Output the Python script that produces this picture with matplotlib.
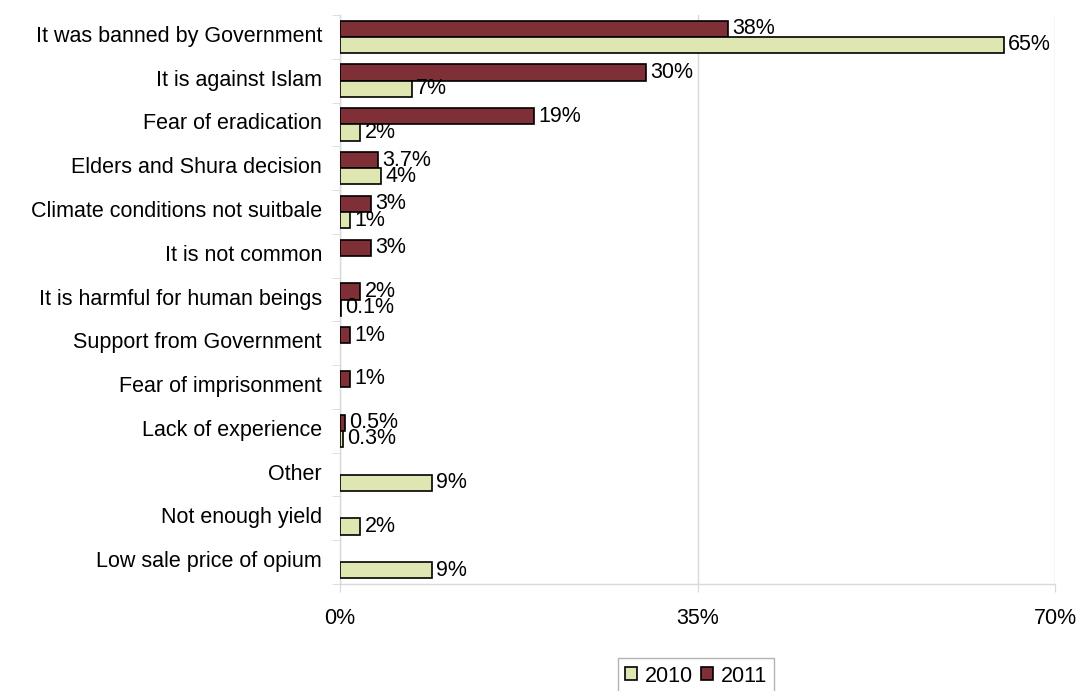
import matplotlib
matplotlib.use("Agg")
import matplotlib.pyplot as plt
import matplotlib.transforms as mtransforms
import numpy as np
from matplotlib.patches import Patch

plt.rcParams['font.family'] = ['Liberation Sans', 'DejaVu Sans']

categories = [
    "It was banned by Government",
    "It is against Islam",
    "Fear of eradication",
    "Elders and Shura decision",
    "Climate conditions not suitbale",
    "It is not common",
    "It is harmful for human beings",
    "Support from Government",
    "Fear of imprisonment",
    "Lack of experience",
    "Other",
    "Not enough yield",
    "Low sale price of opium",
]
# percent of respondents; None = not asked that year
values_2011 = [38, 30, 19, 3.7, 3, 3, 2, 1, 1, 0.5, None, None, None]
values_2010 = [65, 7, 2, 4, 1, None, 0.1, None, None, 0.3, 9, 2, 9]
xticks = [0, 35, 70]

color_2010 = "#E0E6B2"
color_2011 = "#7F2F36"
grid_color = "#D9D9D9"
fs = 15.5

fig = plt.figure(figsize=(10.78, 6.91), dpi=100)
ax = fig.add_axes([340 / 1078, 1 - 584 / 691, 715 / 1078, 569 / 691])

y = np.arange(len(categories))
h = 0.37


def fmt(v):
    return f"{v:g}%"


for i, (v11, v10) in enumerate(zip(values_2011, values_2010)):
    if v11 is not None:
        ax.barh(i - h / 2, v11, height=h, color=color_2011,
                edgecolor="black", linewidth=1.2, zorder=3)
        ax.annotate(fmt(v11), (v11, i - h / 2), xytext=(3, 0),
                    textcoords="offset points", va="center", ha="left",
                    fontsize=fs, zorder=4)
    if v10 is not None:
        ax.barh(i + h / 2, v10, height=h, color=color_2010,
                edgecolor="black", linewidth=1.2, zorder=3)
        ax.annotate(fmt(v10), (v10, i + h / 2), xytext=(3, 0),
                    textcoords="offset points", va="center", ha="left",
                    fontsize=fs, zorder=4)

ax.set_xlim(0, 70)
ax.set_ylim(len(categories) - 0.5, -0.5)

ax.set_xticks(xticks)
ax.set_xticklabels([f"{t}%" for t in xticks], fontsize=fs)
ax.tick_params(axis="x", length=6, color=grid_color, pad=11)
ax.xaxis.grid(True, color=grid_color, linewidth=1, zorder=0)

ax.set_yticks(y)
ax.set_yticklabels(categories, fontsize=fs)
ax.tick_params(axis="y", which="major", length=0, pad=13)
ax.set_yticks(np.arange(-0.5, len(categories), 1), minor=True)
ax.tick_params(axis="y", which="minor", length=6, color=grid_color)
lift = mtransforms.ScaledTranslation(0, 3 / 100, fig.dpi_scale_trans)
for lbl in ax.get_yticklabels():
    lbl.set_transform(lbl.get_transform() + lift)

for side in ("top", "right"):
    ax.spines[side].set_visible(False)
for side in ("left", "bottom"):
    ax.spines[side].set_color(grid_color)
    ax.spines[side].set_linewidth(1)

handles = [
    Patch(facecolor=color_2010, edgecolor="black", linewidth=1.2, label="2010"),
    Patch(facecolor=color_2011, edgecolor="black", linewidth=1.2, label="2011"),
]
leg = fig.legend(handles=handles, loc="upper center",
                 bbox_to_anchor=(696 / 1078, 1 - 658 / 691),
                 ncol=2, fontsize=fs, frameon=True, fancybox=False,
                 handlelength=0.55, handleheight=0.55, handletextpad=0.35,
                 columnspacing=0.4, borderpad=0.35, borderaxespad=0)
leg.get_frame().set_edgecolor("#A0A0A0")
leg.get_frame().set_linewidth(1)

fig.savefig("out.png", dpi=100)
